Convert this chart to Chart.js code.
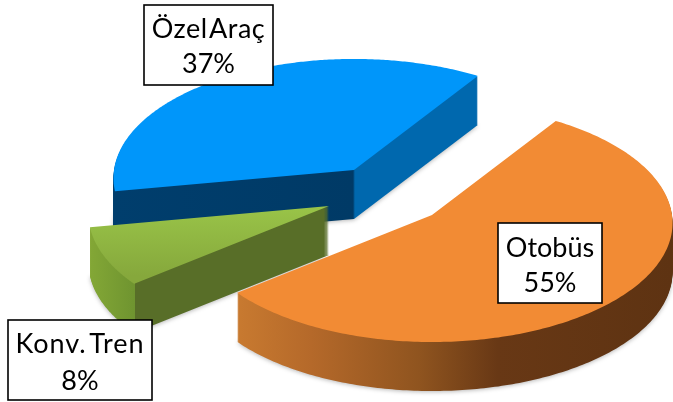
<!DOCTYPE html>
<html><head><meta charset="utf-8">
<style>html,body{margin:0;padding:0;background:#fff}canvas{display:block;filter:blur(0.4px)}</style>
<script src="https://cdn.jsdelivr.net/npm/chart.js@4"></script>
</head><body>
<canvas id="c" width="673" height="402"></canvas>
<script>
const categories = ['Otobüs', 'Konv. Tren', 'Özel Araç'];
const shares = [55, 8, 37];

// Camera of the tilted disc and extrusion depth
const RX = 240, RY = 118.5, PERSP = 0.067, DEPTH = 49;
// Per-slice styling and explosion, in the order of categories
const sliceViews = [
  {x: 432, y: 215, top: [[0, '#f28b34'], [1, '#f28b34']],
   side: [[0, '#c87a30'], [0.17, '#b5692a'], [0.42, '#8f541f'], [0.6, '#683815'], [1, '#5e3312']], sideRange: [237, 672]},
  {x: 329, y: 206, top: [[0, '#9cc84a'], [1, '#86a83c']],
   side: [[0, '#84a836'], [0.85, '#6f9430'], [0.855, '#586e28'], [1, '#586e28']], sideRange: [88, 143]},
  {x: 354, y: 170, top: [[0, '#0096fa'], [1, '#0096fa']],
   side: [[0, '#003e6d'], [0.63, '#003a66'], [0.635, '#0068ae'], [1, '#0068ae']], sideRange: [113, 494]}
];
const labelBoxes = [
  {left: 498, top: 223, w: 104, h: 80, base: [257, 292], ws: 0, ls: 0},
  {left: 8, top: 320, w: 144, h: 80, base: [353, 390], ws: -5, ls: 0.9},
  {left: 144, top: 5, w: 129, h: 80, base: [38, 73], ws: -6, ls: 0.5}
];

function gradient(ctx, stops, a0, a1, horizontal) {
  const g = horizontal ? ctx.createLinearGradient(a0, 0, a1, 0) : ctx.createLinearGradient(0, a0, 0, a1);
  stops.forEach(s => g.addColorStop(s[0], s[1]));
  return g;
}

// A context whose paths pass through the perspective projection
function projected(real, el, view, fill, dz) {
  const R = el.outerRadius, x0 = el.x, y0 = el.y;
  const map = (px, py) => {
    const X = (px - x0) / R, Y = (py - y0) / R, w = 1 - PERSP * Y;
    return [view.x + RX * X / w, view.y + dz + RY * Y / w];
  };
  const h = {
    beginPath() { real.beginPath(); },
    closePath() { real.closePath(); },
    moveTo(x, y) { const p = map(x, y); real.moveTo(p[0], p[1]); },
    lineTo(x, y) { const p = map(x, y); real.lineTo(p[0], p[1]); },
    arc(x, y, r, a, b, ccw) {
      const n = 120;
      let span = b - a;
      if (ccw && span > 0) span -= Math.PI * 2;
      if (!ccw && span < 0) span += Math.PI * 2;
      for (let i = 0; i <= n; i++) {
        const t = a + span * i / n;
        const p = map(x + r * Math.cos(t), y + r * Math.sin(t));
        real.lineTo(p[0], p[1]);
      }
    },
    fill() { real.fillStyle = fill; real.fill(); },
    stroke() {}
  };
  return new Proxy(real, {
    get(t, k) { if (h[k]) return h[k]; const v = t[k]; return typeof v === 'function' ? v.bind(t) : v; },
    set(t, k, v) { if (k !== 'fillStyle') t[k] = v; return true; }
  });
}

const pie3d = {
  id: 'pie3d',
  beforeDatasetsDraw(chart) {
    const ctx = chart.ctx, arcs = chart.getDatasetMeta(0).data;
    for (let i = arcs.length - 1; i >= 0; i--) {
      const el = arcs[i], v = sliceViews[i];
      const side = gradient(ctx, v.side, v.sideRange[0], v.sideRange[1], true);
      ctx.save();
      ctx.shadowColor = 'rgba(0,0,0,0.28)'; ctx.shadowBlur = 4; ctx.shadowOffsetY = 1;
      el.draw(projected(ctx, el, v, side, DEPTH));
      ctx.restore();
      for (let d = DEPTH - 1; d >= 1; d--) el.draw(projected(ctx, el, v, side, d));
      const top = gradient(ctx, v.top, v.y - 10, v.y + 70, false);
      el.draw(projected(ctx, el, v, top, 0));
    }
    return false;
  },
  afterDraw(chart) {
    const ctx = chart.ctx;
    ctx.save();
    categories.forEach((name, i) => {
      const b = labelBoxes[i];
      ctx.fillStyle = '#fff';
      ctx.fillRect(b.left, b.top, b.w, b.h);
      ctx.strokeStyle = '#000'; ctx.lineWidth = 1.6;
      ctx.strokeRect(b.left, b.top, b.w, b.h);
      ctx.fillStyle = '#000';
      ctx.font = '27px Lato';
      ctx.textAlign = 'center';
      ctx.textBaseline = 'alphabetic';
      ctx.wordSpacing = b.ws + 'px';
      ctx.letterSpacing = b.ls + 'px';
      ctx.fillText(name, b.left + b.w / 2, b.base[0]);
      ctx.wordSpacing = '0px';
      ctx.letterSpacing = '0px';
      ctx.fillText(shares[i] + '%', b.left + b.w / 2, b.base[1]);
    });
    ctx.restore();
  }
};

new Chart(document.getElementById('c'), {
  type: 'pie',
  data: {labels: categories, datasets: [{data: shares, backgroundColor: ['#f28b34', '#8fb83f', '#0096fa'], borderWidth: 0}]},
  options: {
    responsive: false, animation: false, rotation: 33,
    plugins: {legend: {display: false}, tooltip: {enabled: false}}
  },
  plugins: [pie3d]
});
</script>
</body></html>
